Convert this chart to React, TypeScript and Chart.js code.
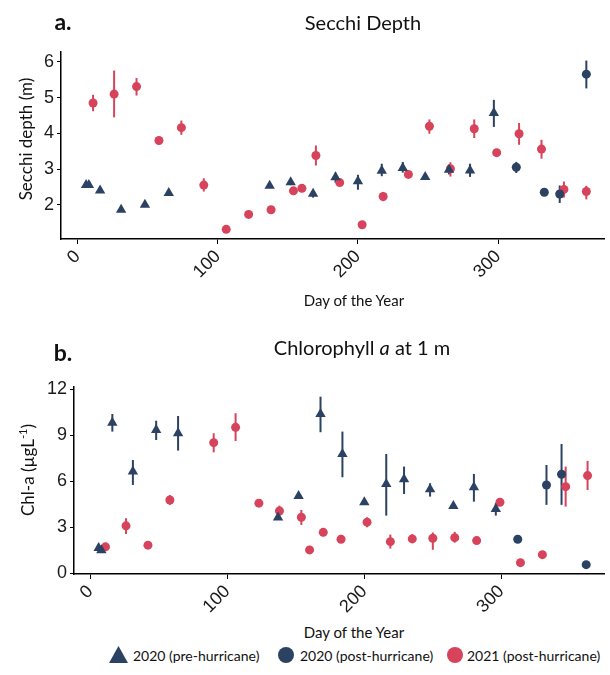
import React, { useEffect, useRef } from "react";
import { Chart, registerables } from "chart.js";

Chart.register(...registerables);

const NAVY = "#2c4262";
const RED = "#d6435a";

// ---------- Panel a: Secchi depth ----------
const dayTicks = [0, 100, 200, 300];
const secchiTicks = [2, 3, 4, 5, 6];
const chlTicks = [0, 3, 6, 9, 12];

const secchiPreDay = [6, 8, 16, 31, 48, 65, 137, 152, 168, 184, 200, 217, 232, 248, 265, 280, 297];
const secchiPre = [2.55, 2.55, 2.4, 1.86, 2.0, 2.33, 2.53, 2.63, 2.31, 2.77, 2.66, 2.95, 3.03, 2.78, 2.98, 2.96, 4.57];
const secchiPreLow = [2.55, 2.55, 2.4, 1.86, 2.0, 2.28, 2.53, 2.55, 2.2, 2.62, 2.42, 2.8, 2.9, 2.78, 2.85, 2.78, 4.18];
const secchiPreHigh = [2.55, 2.55, 2.4, 1.86, 2.0, 2.38, 2.53, 2.7, 2.4, 2.9, 2.84, 3.15, 3.2, 2.78, 3.1, 3.15, 4.94];

const secchiPostDay = [313, 333, 344, 363];
const secchiPost = [3.05, 2.35, 2.3, 5.66];
const secchiPostLow = [2.89, 2.35, 2.05, 5.26];
const secchiPostHigh = [3.2, 2.35, 2.54, 6.04];

const secchi21Day = [11, 26, 42, 58, 74, 90, 106, 122, 138, 154, 160, 170, 187, 203, 218, 236, 251, 266, 283, 299, 315, 331, 347, 363];
const secchi21 = [4.85, 5.1, 5.31, 3.8, 4.16, 2.55, 1.31, 1.73, 1.86, 2.39, 2.46, 3.38, 2.62, 1.44, 2.23, 2.85, 4.2, 3.01, 4.13, 3.46, 3.99, 3.56, 2.43, 2.37];
const secchi21Low = [4.62, 4.45, 5.06, 3.8, 3.96, 2.37, 1.31, 1.73, 1.86, 2.39, 2.46, 3.1, 2.55, 1.44, 2.1, 2.78, 3.99, 2.79, 3.87, 3.46, 3.68, 3.29, 2.2, 2.15];
const secchi21High = [5.08, 5.76, 5.55, 3.8, 4.36, 2.74, 1.31, 1.73, 1.86, 2.39, 2.46, 3.66, 2.7, 1.44, 2.36, 2.92, 4.39, 3.19, 4.39, 3.46, 4.29, 3.82, 2.65, 2.53];

// ---------- Panel b: Chlorophyll a ----------
const chlPreDay = [6, 8, 16, 31, 48, 64, 137, 152, 168, 184, 200, 216, 229, 248, 265, 280, 296];
const chlPre = [1.65, 1.5, 9.82, 6.63, 9.35, 9.13, 3.63, 5.04, 10.39, 7.78, 4.63, 5.82, 6.13, 5.48, 4.39, 5.61, 4.19];
const chlPreLow = [1.65, 1.5, 9.24, 5.76, 8.69, 8.0, 3.63, 5.04, 9.2, 6.26, 4.45, 3.76, 5.17, 5.0, 4.39, 4.67, 3.76];
const chlPreHigh = [1.65, 1.5, 10.39, 7.39, 9.95, 10.26, 3.63, 5.04, 11.52, 9.24, 4.8, 7.78, 6.96, 5.87, 4.39, 6.48, 4.57];

const chlPostDay = [312, 333, 344, 362];
const chlPost = [2.22, 5.76, 6.46, 0.56];
const chlPostLow = [2.22, 4.46, 4.46, 0.56];
const chlPostHigh = [2.22, 7.06, 8.43, 0.56];

const chl21Day = [11, 26, 42, 58, 90, 106, 123, 138, 154, 160, 170, 183, 202, 219, 235, 250, 266, 282, 299, 314, 330, 347, 363];
const chl21 = [1.72, 3.09, 1.83, 4.78, 8.52, 9.52, 4.57, 4.06, 3.65, 1.52, 2.67, 2.22, 3.33, 2.06, 2.24, 2.28, 2.32, 2.13, 4.63, 0.69, 1.21, 5.65, 6.37];
const chl21Low = [1.72, 2.56, 1.83, 4.46, 7.89, 8.63, 4.33, 3.72, 3.15, 1.52, 2.67, 1.98, 3.0, 1.61, 2.0, 1.53, 2.0, 1.9, 4.63, 0.69, 1.21, 4.35, 5.43];
const chl21High = [1.72, 3.59, 1.83, 5.1, 9.13, 10.44, 4.81, 4.41, 4.13, 1.52, 2.67, 2.5, 3.65, 2.52, 2.55, 2.66, 2.7, 2.35, 4.63, 0.69, 1.21, 6.96, 7.33];

const legendLabels = ["2020 (pre-hurricane)", "2020 (post-hurricane)", "2021 (post-hurricane)"];

const errorBars = {
  id: "errorBars",
  beforeDatasetsDraw(chart: any) {
    const { ctx } = chart;
    const x = chart.scales.x;
    const y = chart.scales.y;
    chart.data.datasets.forEach((ds: any) => {
      if (!ds.errLow) return;
      ctx.save();
      ctx.strokeStyle = ds.borderColor;
      ctx.lineWidth = 2;
      ds.data.forEach((p: any, i: number) => {
        const lo = ds.errLow[i];
        const hi = ds.errHigh[i];
        if (hi - lo <= 0) return;
        const px = x.getPixelForValue(p.x);
        ctx.beginPath();
        ctx.moveTo(px, y.getPixelForValue(lo));
        ctx.lineTo(px, y.getPixelForValue(hi));
        ctx.stroke();
      });
      ctx.restore();
    });
  },
};

function mk(days: number[], vals: number[], lo: number[], hi: number[], color: string, style: string, r: number, label: string) {
  return {
    label,
    data: days.map((d, i) => ({ x: d, y: vals[i] })),
    errLow: lo,
    errHigh: hi,
    backgroundColor: color,
    borderColor: color,
    borderWidth: 0,
    pointStyle: style,
    pointRadius: r,
    showLine: false,
  };
}

const tickFont = { family: "'Liberation Sans', Arial, sans-serif", size: 18 };

type PanelProps = {
  height: number;
  padTop: number;
  yWidth: number;
  xHeight: number;
  xMin: number;
  xMax: number;
  yMin: number;
  yMax: number;
  yTicks: number[];
  datasets: any[];
};

function Panel(props: PanelProps) {
  const ref = useRef<HTMLCanvasElement | null>(null);
  useEffect(() => {
    if (!ref.current) return;
    const chart = new Chart(ref.current, {
      type: "scatter",
      data: { datasets: props.datasets },
      options: {
        animation: false,
        responsive: false,
        maintainAspectRatio: false,
        layout: { padding: { top: props.padTop, left: 0, right: 0, bottom: 0 } },
        plugins: { legend: { display: false }, tooltip: { enabled: false }, title: { display: false } },
        scales: {
          x: {
            type: "linear",
            min: props.xMin,
            max: props.xMax,
            afterFit: (s: any) => {
              s.height = props.xHeight;
            },
            afterBuildTicks: (s: any) => {
              s.ticks = dayTicks.map((v) => ({ value: v }));
            },
            ticks: { minRotation: 45, maxRotation: 45, font: tickFont, color: "#1a1a1a", padding: 2 },
            grid: { drawOnChartArea: false, drawTicks: true, tickLength: 5, color: "#000", lineWidth: 1 },
            border: { display: true, color: "#000", width: 1.5 },
          },
          y: {
            type: "linear",
            min: props.yMin,
            max: props.yMax,
            afterFit: (s: any) => {
              s.width = props.yWidth;
            },
            afterBuildTicks: (s: any) => {
              s.ticks = props.yTicks.map((v) => ({ value: v }));
            },
            ticks: { font: tickFont, color: "#1a1a1a", padding: 3 },
            grid: { drawOnChartArea: false, drawTicks: true, tickLength: 4, color: "#000", lineWidth: 1 },
            border: { display: true, color: "#000", width: 1.5 },
          },
        },
      } as any,
      plugins: [errorBars],
    });
    return () => chart.destroy();
  }, []);
  return <canvas ref={ref} width={610} height={props.height} style={{ width: 610, height: props.height, display: "block" }} />;
}

const textFont = "Lato, 'Open Sans', sans-serif";

function Abs(p: { x: number; y: number; children: any; style?: any }) {
  return (
    <div style={{ position: "absolute", left: p.x, top: p.y, transform: "translate(-50%,-50%)", whiteSpace: "nowrap", fontFamily: textFont, color: "#111", ...p.style }}>
      {p.children}
    </div>
  );
}

export default function App() {
  useEffect(() => {
    document.body.style.margin = "0";
  }, []);

  const dsA = [
    mk(secchiPreDay, secchiPre, secchiPreLow, secchiPreHigh, NAVY, "triangle", 6, legendLabels[0]),
    mk(secchiPostDay, secchiPost, secchiPostLow, secchiPostHigh, NAVY, "circle", 4.5, legendLabels[1]),
    mk(secchi21Day, secchi21, secchi21Low, secchi21High, RED, "circle", 4.5, legendLabels[2]),
  ];
  const dsB = [
    mk(chlPreDay, chlPre, chlPreLow, chlPreHigh, NAVY, "triangle", 6, legendLabels[0]),
    mk(chlPostDay, chlPost, chlPostLow, chlPostHigh, NAVY, "circle", 4.5, legendLabels[1]),
    mk(chl21Day, chl21, chl21Low, chl21High, RED, "circle", 4.5, legendLabels[2]),
  ];

  return (
    <div style={{ position: "relative", width: 610, height: 675, background: "#fff", overflow: "hidden" }}>
      <div style={{ position: "absolute", left: 0, top: 0 }}>
        <Panel height={320} padTop={52} yWidth={61} xHeight={81} xMin={-11.9} xMax={375.6} yMin={1.04} yMax={6.28} yTicks={secchiTicks} datasets={dsA} />
      </div>
      <div style={{ position: "absolute", left: 0, top: 320 }}>
        <Panel height={300} padTop={67} yWidth={74} xHeight={46} xMin={-12} xMax={375} yMin={-0.05} yMax={12.15} yTicks={chlTicks} datasets={dsB} />
      </div>

      <Abs x={63} y={21} style={{ fontWeight: 700, fontSize: 23 }}>a.</Abs>
      <Abs x={363} y={22} style={{ fontSize: 20 }}>Secchi Depth</Abs>
      <Abs x={25} y={139} style={{ fontSize: 17, transform: "translate(-50%,-50%) rotate(-90deg)" }}>Secchi depth (m)</Abs>
      <Abs x={354} y={300} style={{ fontSize: 15 }}>Day of the Year</Abs>

      <Abs x={63} y={352} style={{ fontWeight: 700, fontSize: 23 }}>b.</Abs>
      <Abs x={362} y={347} style={{ fontSize: 20 }}>
        Chlorophyll <i>a</i> at 1 m
      </Abs>
      <Abs x={27} y={470} style={{ fontSize: 17, transform: "translate(-50%,-50%) rotate(-90deg)" }}>
        Chl-a (µgL<sup style={{ fontSize: 11 }}>-1</sup>)
      </Abs>
      <Abs x={354} y={632} style={{ fontSize: 15 }}>Day of the Year</Abs>

      <div style={{ position: "absolute", left: 109, top: 646 }}>
        <svg width="19" height="17">
          <polygon points="9.5,0 19,17 0,17" fill={NAVY} />
        </svg>
      </div>
      <div style={{ position: "absolute", left: 133, top: 655, transform: "translateY(-50%)", fontFamily: textFont, fontSize: 14, color: "#111", whiteSpace: "nowrap" }}>{legendLabels[0]}</div>
      <div style={{ position: "absolute", left: 278, top: 647, width: 16, height: 16, borderRadius: 8, background: NAVY }} />
      <div style={{ position: "absolute", left: 300, top: 655, transform: "translateY(-50%)", fontFamily: textFont, fontSize: 14, color: "#111", whiteSpace: "nowrap" }}>{legendLabels[1]}</div>
      <div style={{ position: "absolute", left: 447, top: 647, width: 16, height: 16, borderRadius: 8, background: RED }} />
      <div style={{ position: "absolute", left: 467, top: 655, transform: "translateY(-50%)", fontFamily: textFont, fontSize: 14, color: "#111", whiteSpace: "nowrap" }}>{legendLabels[2]}</div>
    </div>
  );
}
